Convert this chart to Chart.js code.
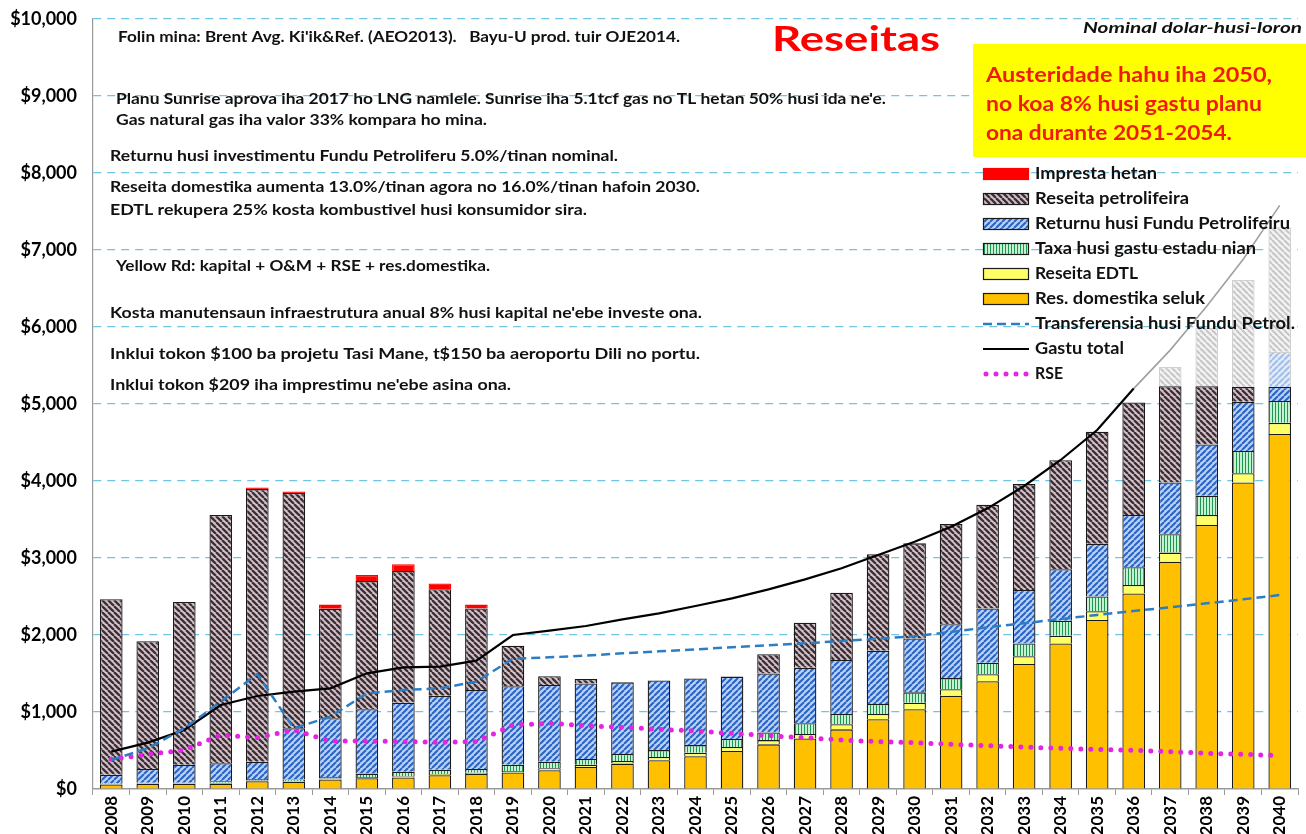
<!DOCTYPE html>
<html>
<head>
<meta charset="utf-8">
<title>Reseitas</title>
<script src="https://cdn.jsdelivr.net/npm/chart.js@4.4.1/dist/chart.umd.min.js"></script>
<style>
    html, body { margin: 0; padding: 0; background: #fff; }
    #wrap { width: 1306px; height: 834px; }
</style>
</head>
<body>
<div id="wrap"><canvas id="chartReseitas" width="1306" height="834"></canvas></div>
<script>
const anos = ['2008', '2009', '2010', '2011', '2012', '2013', '2014', '2015', '2016', '2017', '2018',
    '2019', '2020', '2021', '2022', '2023', '2024', '2025', '2026', '2027', '2028', '2029',
    '2030', '2031', '2032', '2033', '2034', '2035', '2036', '2037', '2038', '2039', '2040'];

// barras (tokon $)
const resDomestika = [60, 65, 65, 70, 100, 95, 125, 140, 150, 180, 195, 215, 245, 285, 330, 375, 425, 495, 580, 655, 775, 905,
    1035, 1210, 1400, 1625, 1890, 2195, 2540, 2950, 3430, 3980, 4610];
const reseitaEdtl = [5, 5, 5, 10, 10, 10, 10, 15, 15, 15, 15, 20, 25, 30, 35, 40, 45, 50, 55, 60, 65, 70,
    85, 85, 90, 100, 100, 115, 110, 120, 130, 120, 145];
const taxaGastu = [10, 10, 10, 20, 20, 20, 20, 45, 60, 55, 50, 80, 85, 75, 90, 90, 100, 105, 100, 140, 135, 130,
    135, 145, 150, 165, 195, 190, 230, 240, 250, 290, 285];
const returnuFundu = [110, 180, 235, 235, 225, 665, 765, 835, 895, 960, 1025, 1020, 995, 980, 930, 905, 865, 810, 765, 720, 700, 690,
    700, 700, 705, 695, 670, 685, 680, 670, 665, 640, 180];
const reseitaPetro = [2280, 1660, 2115, 3225, 3540, 3055, 1420, 1665, 1710, 1385, 1060, 525, 115, 60, 0, 0, 0, 0, 250, 585, 875, 1255,
    1235, 1300, 1345, 1375, 1415, 1455, 1460, 1250, 755, 190, 0];
// parte la hatene (pasta naroman)
const returnuLaHatene = [0, 0, 0, 0, 0, 0, 0, 0, 0, 0, 0, 0, 0, 0, 0, 0, 0, 0, 0, 0, 0, 0,
    0, 0, 0, 0, 0, 0, 0, 0, 0, 0, 460];
const petroLaHatene = [0, 0, 0, 0, 0, 0, 0, 0, 0, 0, 0, 0, 0, 0, 0, 0, 0, 0, 0, 0, 0, 0,
    0, 0, 0, 0, 0, 0, 0, 250, 760, 1390, 1615];
const imprestaHetan = [0, 0, 0, 0, 20, 20, 55, 80, 90, 75, 50, 0, 0, 0, 0, 0, 0, 0, 0, 0, 0, 0,
    0, 0, 0, 0, 0, 0, 0, 0, 0, 0, 0];

// liña sira
const transferensia = [377, 528, 788, 1134, 1494, 788, 939, 1242, 1286, 1307, 1394, 1693, 1710, 1732, 1762, 1788, 1814, 1840, 1866, 1892, 1922, 1952,
    1985, 2040, 2100, 2152, 2208, 2260, 2312, 2359, 2411, 2463, 2519];
const gastuTotal = [485, 602, 766, 1091, 1208, 1264, 1307, 1502, 1580, 1589, 1667, 2000, 2056, 2117, 2203, 2281, 2377, 2476, 2593, 2723, 2866, 3040,
    3212, 3407, 3645, 3935, 4273, 4662, 5200, null, null, null, null];
const gastuProjesaun = [null, null, null, null, null, null, null, null, null, null, null, null, null, null, null, null, null, null, null, null, null, null,
    null, null, null, null, null, null, 5200, 5700, 6270, 6880, 7580];
const rse = [385, 450, 506, 701, 666, 766, 623, 623, 615, 606, 615, 831, 853, 822, 801, 775, 753, 723, 692, 666, 636, 615,
    602, 580, 562, 545, 528, 515, 502, 485, 463, 450, 433];

const yTicks = [0, 1000, 2000, 3000, 4000, 5000, 6000, 7000, 8000, 9000, 10000];

const canvas = document.getElementById('chartReseitas');
const ctx = canvas.getContext('2d');

function rayasDiagonal(fondo, raya, subida, grosor) {
    const t = 6;
    const c = document.createElement('canvas');
    c.width = t; c.height = t;
    const g = c.getContext('2d');
    g.fillStyle = fondo;
    g.fillRect(0, 0, t, t);
    g.strokeStyle = raya;
    g.lineWidth = grosor;
    g.beginPath();
    for (let k = -1; k <= 1; k++) {
        if (subida) { g.moveTo(k * t, t); g.lineTo(k * t + t, 0); }
        else { g.moveTo(k * t, 0); g.lineTo(k * t + t, t); }
    }
    g.stroke();
    return ctx.createPattern(c, 'repeat');
}

function rayasVertikal(fondo, raya) {
    const c = document.createElement('canvas');
    c.width = 3; c.height = 3;
    const g = c.getContext('2d');
    g.fillStyle = fondo;
    g.fillRect(0, 0, 3, 3);
    g.fillStyle = raya;
    g.fillRect(0, 0, 1, 3);
    return ctx.createPattern(c, 'repeat');
}

const patPetro = rayasDiagonal('#d6c2ca', '#3a3036', false, 2.3);
const patFundu = rayasDiagonal('#b9d2f4', '#2862c6', true, 2);
const patTaxa = rayasVertikal('#c4f2d2', '#1e9650');
const patPetroFade = rayasDiagonal('#f3f3f3', '#c6c6c6', false, 2);
const patFunduFade = rayasDiagonal('#e3edf9', '#a2bde6', true, 2);

const FONTU = 'Lato, "Open Sans", sans-serif';

function barra(label, data, cor, borda) {
    return {
        type: 'bar', label, data,
        backgroundColor: cor,
        borderColor: borda || '#1a1a1a',
        borderWidth: 1.3,
        stack: 'barras', order: 1,
        barPercentage: 0.62, categoryPercentage: 1
    };
}

function linha(label, data, cor, width, dash, stack) {
    return {
        type: 'line', label, data,
        borderColor: cor, borderWidth: width, borderDash: dash,
        pointRadius: 0, fill: false, tension: 0, spanGaps: false,
        stack, order: 0
    };
}

const dsTransf = linha('Transferensia husi Fundu Petrol.', transferensia, '#2d7dc4', 2.5, [9, 5], 'l1');
const dsGastu = linha('Gastu total', gastuTotal, '#000000', 2.2, [], 'l2');
const dsProj = linha('', gastuProjesaun, '#a0a0a0', 1.6, [], 'l3');
const dsRse = linha('RSE', rse, '#e424e0', 5, [0, 10], 'l4');
dsRse.borderCapStyle = 'round';

const dsOrange = barra('Res. domestika seluk', resDomestika, '#ffc000');
const dsEdtl = barra('Reseita EDTL', reseitaEdtl, '#ffff66');
const dsTaxa = barra('Taxa husi gastu estadu nian', taxaGastu, patTaxa);
const dsFundu = barra('Returnu husi Fundu Petrolifeiru', returnuFundu, patFundu);
const dsPetro = barra('Reseita petrolifeira', reseitaPetro, patPetro);
const dsFunduFade = barra('', returnuLaHatene, patFunduFade, '#d0d0d0');
const dsPetroFade = barra('', petroLaHatene, patPetroFade, '#d0d0d0');
const dsImpresta = barra('Impresta hetan', imprestaHetan, '#ff0000', '#ff0000');

function textoAjustadu(c, texto, x, y, ancho) {
    const w = c.measureText(texto).width;
    c.save();
    c.translate(x, y);
    c.scale(ancho / w, 1);
    c.fillText(texto, 0, 0);
    c.restore();
}

const notas = [
    ["Folin mina: Brent Avg. Ki'ik&Ref. (AEO2013).   Bayu-U prod. tuir OJE2014.", 118, 37, 562],
    ["Planu Sunrise aprova iha 2017 ho LNG namlele. Sunrise iha 5.1tcf gas no TL hetan 50% husi ida ne'e.", 116, 99, 770],
    ["Gas natural gas iha valor 33% kompara ho mina.", 116, 120, 371],
    ["Returnu husi investimentu Fundu Petroliferu 5.0%/tinan nominal.", 110, 156, 508],
    ["Reseita domestika aumenta 13.0%/tinan agora no 16.0%/tinan hafoin 2030.", 110, 187, 590],
    ["EDTL rekupera 25% kosta kombustivel husi konsumidor sira.", 110, 210, 477],
    ["Yellow Rd: kapital + O&M + RSE + res.domestika.", 116, 266, 374],
    ["Kosta manutensaun infraestrutura anual 8% husi kapital ne'ebe investe ona.", 110, 313, 592],
    ["Inklui tokon $100 ba projetu Tasi Mane, t$150 ba aeroportu Dili no portu.", 110, 354, 590],
    ["Inklui tokon $209 iha imprestimu ne'ebe asina ona.", 110, 385, 401]
];

// legenda: dataset, tipu, naruk testu
const legendaItems = [
    { ds: dsImpresta, tipu: 'bar', w: 122 },
    { ds: dsPetro, tipu: 'bar', w: 154 },
    { ds: dsFundu, tipu: 'bar', w: 255 },
    { ds: dsTaxa, tipu: 'bar', w: 221 },
    { ds: dsEdtl, tipu: 'bar', w: 103 },
    { ds: dsOrange, tipu: 'bar', w: 170 },
    { ds: dsTransf, tipu: 'line', w: 260 },
    { ds: dsGastu, tipu: 'line', w: 89 },
    { ds: dsRse, tipu: 'line', w: 28 }
];

const anotasaun = {
    id: 'anotasaun',
    afterDraw(chart) {
        const c = chart.ctx;
        c.save();
        // notas
        c.fillStyle = '#111';
        c.textBaseline = 'middle';
        c.textAlign = 'left';
        c.font = 'bold 15px ' + FONTU;
        notas.forEach(n => textoAjustadu(c, n[0], n[1], n[2], n[3]));

        // titulu
        c.fillStyle = '#ff0000';
        c.font = 'bold 34px ' + FONTU;
        textoAjustadu(c, 'Reseitas', 772, 40, 168);

        c.fillStyle = '#111';
        c.font = 'italic bold 16px ' + FONTU;
        textoAjustadu(c, 'Nominal dolar-husi-loron', 1083, 28, 219);

        // kaixa kinur
        c.fillStyle = '#ffff00';
        c.fillRect(973, 44, 333, 113);
        c.fillStyle = '#f01a10';
        c.font = 'bold 21px ' + FONTU;
        textoAjustadu(c, 'Austeridade hahu iha 2050,', 986, 75, 286);
        textoAjustadu(c, 'no koa 8% husi gastu planu', 986, 104, 276);
        textoAjustadu(c, 'ona durante 2051-2054.', 986, 133, 246);

        // legenda
        c.font = 'bold 17px ' + FONTU;
        legendaItems.forEach((it, i) => {
            const y = 174 + i * 25;
            const ds = it.ds;
            if (it.tipu === 'bar') {
                c.fillStyle = ds.backgroundColor;
                c.fillRect(983, y - 6, 46, 12);
                c.lineWidth = 1.2;
                c.strokeStyle = ds.borderColor;
                c.strokeRect(983.5, y - 5.5, 45, 11);
            } else {
                c.save();
                c.strokeStyle = ds.borderColor;
                c.lineWidth = ds.borderWidth;
                c.setLineDash(ds.borderDash || []);
                c.lineCap = ds.borderCapStyle || 'butt';
                c.beginPath();
                c.moveTo(ds.borderCapStyle === 'round' ? 986 : 983, y);
                c.lineTo(1029, y);
                c.stroke();
                c.restore();
            }
            c.fillStyle = '#111';
            textoAjustadu(c, ds.label, 1035, y, it.w);
        });
        c.restore();
    }
};

const chartReseitas = new Chart(ctx, {
    data: {
        labels: anos,
        datasets: [dsTransf, dsGastu, dsProj, dsRse,
            dsOrange, dsEdtl, dsTaxa, dsFundu, dsPetro, dsFunduFade, dsPetroFade, dsImpresta]
    },
    options: {
        responsive: false,
        animation: false,
        layout: { padding: { top: 19, right: 8, left: 0, bottom: 0 } },
        plugins: {
            legend: { display: false },
            tooltip: { enabled: false },
            title: { display: false }
        },
        scales: {
            x: {
                stacked: true,
                offset: true,
                grid: { display: true, drawOnChartArea: false, drawTicks: true, tickLength: 6, color: '#9a9a9a', offset: true },
                border: { display: true, color: '#9a9a9a', width: 1.5 },
                ticks: {
                    autoSkip: false, minRotation: 90, maxRotation: 90, padding: 1,
                    color: '#000', font: { family: FONTU, size: 17, weight: 'bold' }
                },
                afterFit(scale) { scale.height = 45; }
            },
            y: {
                stacked: true,
                min: 0, max: 10000,
                afterBuildTicks(scale) { scale.ticks = yTicks.map(v => ({ value: v })); },
                grid: {
                    drawTicks: true,
                    tickLength: 15,
                    tickColor: 'rgba(0,0,0,0)',
                    lineWidth: 1.2,
                    color: c => (c.tick && c.tick.value === 0) ? 'rgba(0,0,0,0)' : '#70c4e6'
                },
                border: { display: true, color: '#9a9a9a', width: 1.2, dash: [8, 6] },
                ticks: {
                    padding: 1,
                    color: '#000',
                    font: { family: FONTU, size: 18, weight: 'bold' },
                    callback: v => '$' + Number(v).toLocaleString('en-US')
                },
                afterFit(scale) { scale.width = 93; }
            }
        }
    },
    plugins: [anotasaun]
});
</script>
</body>
</html>
